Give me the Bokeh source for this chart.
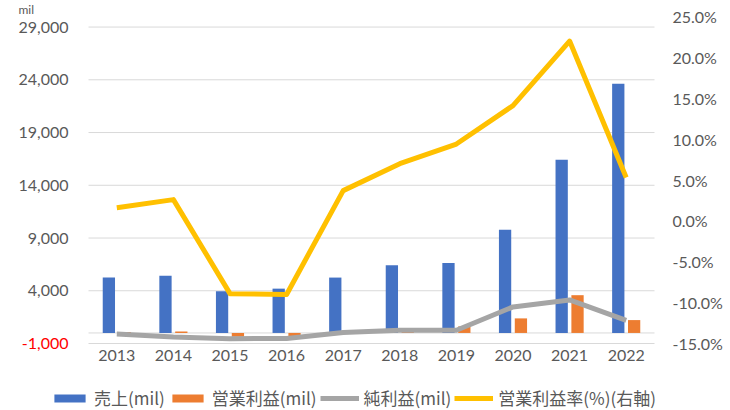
from bokeh.plotting import figure
from bokeh.models import (Range1d, LinearAxis, FixedTicker, PrintfTickFormatter, NumeralTickFormatter,
                          Label, Legend, LegendItem, ColumnDataSource)
from bokeh.embed import file_html
from bokeh.resources import INLINE

years = ["2013", "2014", "2015", "2016", "2017", "2018", "2019", "2020", "2021", "2022"]
sales = [5250, 5420, 3960, 4200, 5250, 6430, 6620, 9780, 16430, 23620]
op_profit = [85, 140, -350, -380, 195, 450, 620, 1380, 3580, 1220]
net_profit = [-100, -380, -540, -520, 50, 250, 250, 2470, 3130, 1200]
op_margin = [1.6, 2.6, -8.9, -9.0, 3.7, 7.0, 9.4, 14.1, 22.0, 5.3]
left_ticks = [-1000, 4000, 9000, 14000, 19000, 24000, 29000]
right_ticks = [-15, -10, -5, 0, 5, 10, 15, 20, 25]
series_names = ["売上(mil)", "営業利益(mil)", "純利益(mil)", "営業利益率(%)(右軸)"]
unit_label = "mil"

# ---- layout geometry (pixels) ----
W, H = 730, 410
PL, PR, PT, PB = 88, 654, 16, 343          # plot-area box
L_MIN, L_MAX = -1000, 30000                 # left axis limits
R_MIN, R_MAX = -15, 25                      # right axis limits
n = len(years)

kx = (PR - PL) / n
ky = (PB - PT) / (L_MAX - L_MIN)
kr = (PB - PT) / (R_MAX - R_MIN)
x_range = Range1d(-PL / kx, n + (W - PR) / kx)
y_range = Range1d(L_MIN - (H - PB) / ky, L_MAX + PT / ky)
r_range = Range1d(R_MIN - (H - PB) / kr, R_MAX + PT / kr)

xc = [i + 0.5 for i in range(n)]
src = ColumnDataSource(dict(x=xc,
                            xs=[v - 0.14 for v in xc], xo=[v + 0.14 for v in xc],
                            sales=sales, op=op_profit, net=net_profit, margin=op_margin))

TXT = "#595959"
FONT = "Lato"
GRID = "#d9d9d9"


def style_axis(ax):
    ax.axis_line_color = None
    ax.major_tick_line_color = None
    ax.minor_tick_line_color = None
    ax.major_tick_out = 0
    ax.major_tick_in = 0
    ax.major_label_text_font = FONT
    ax.major_label_text_font_size = "16px"
    ax.major_label_text_color = TXT


p = figure(width=W, height=H, x_range=x_range, y_range=y_range,
           output_backend="svg", toolbar_location=None,
           min_border_left=0, min_border_right=0, min_border_top=0, min_border_bottom=0,
           outline_line_color=None, background_fill_color="white", border_fill_color="white")
p.extra_y_ranges = {"pct": r_range}
p.xgrid.grid_line_color = None
p.ygrid.grid_line_color = None

# x axis at the bottom of the plot area
style_axis(p.xaxis[0])
p.xaxis.fixed_location = L_MIN
p.xaxis.ticker = FixedTicker(ticks=xc)
p.xaxis.major_label_overrides = {x: y for x, y in zip(xc, years)}
p.xaxis.major_label_standoff = 6

# left axis
style_axis(p.yaxis[0])
p.yaxis.fixed_location = 0
p.yaxis.ticker = FixedTicker(ticks=left_ticks[1:])
p.yaxis.formatter = NumeralTickFormatter(format="0,0")
p.yaxis.major_label_standoff = 20

# right axis
rax = LinearAxis(y_range_name="pct", ticker=FixedTicker(ticks=right_ticks),
                 formatter=PrintfTickFormatter(format="%.1f%%"), fixed_location=n)
style_axis(rax)
rax.major_label_standoff = 18
p.add_layout(rax, "right")

# gridlines across the plot area, plus the category axis line at zero
p.segment(x0=0, x1=n, y0=left_ticks, y1=left_ticks, line_color=GRID, line_width=1)
p.segment(x0=[0], x1=[n], y0=[0], y1=[0], line_color=GRID, line_width=1)

# minimum tick label of the left axis, in red
p.add_layout(Label(x=0, y=left_ticks[0], x_offset=-20, text="{:,}".format(left_ticks[0]),
                   text_align="right", text_baseline="middle", text_color="#FF0000",
                   text_font=FONT, text_font_size="16px"))
# unit label at top-left
p.add_layout(Label(x=0, y=L_MAX, x_offset=-70, y_offset=15, text=unit_label,
                   text_align="left", text_baseline="top", text_color=TXT,
                   text_font=FONT, text_font_size="12px"))

r_sales = p.vbar(x="xs", top="sales", bottom=0, width=0.217, source=src,
                 fill_color="#4472C4", line_color=None)
r_op = p.vbar(x="xo", top="op", bottom=0, width=0.217, source=src,
              fill_color="#ED7D31", line_color=None)
r_net = p.line(x="x", y="net", source=src, line_color="#A5A5A5", line_width=5, line_join="round")
r_margin = p.line(x="x", y="margin", source=src, y_range_name="pct", line_color="#FFC000",
                  line_width=5, line_join="round")

legend = Legend(items=[LegendItem(label=series_names[0], renderers=[r_sales]),
                       LegendItem(label=series_names[1], renderers=[r_op]),
                       LegendItem(label=series_names[2], renderers=[r_net]),
                       LegendItem(label=series_names[3], renderers=[r_margin])],
                orientation="horizontal", location=(50, 0),
                glyph_width=39, glyph_height=10, label_standoff=5, spacing=3,
                padding=0, margin=0, border_line_color=None, background_fill_alpha=0,
                label_text_font="Noto Sans CJK JP", label_text_font_size="17px",
                label_text_color=TXT, label_height=20)
p.add_layout(legend)

open("out.html", "w").write(file_html(p, INLINE))
